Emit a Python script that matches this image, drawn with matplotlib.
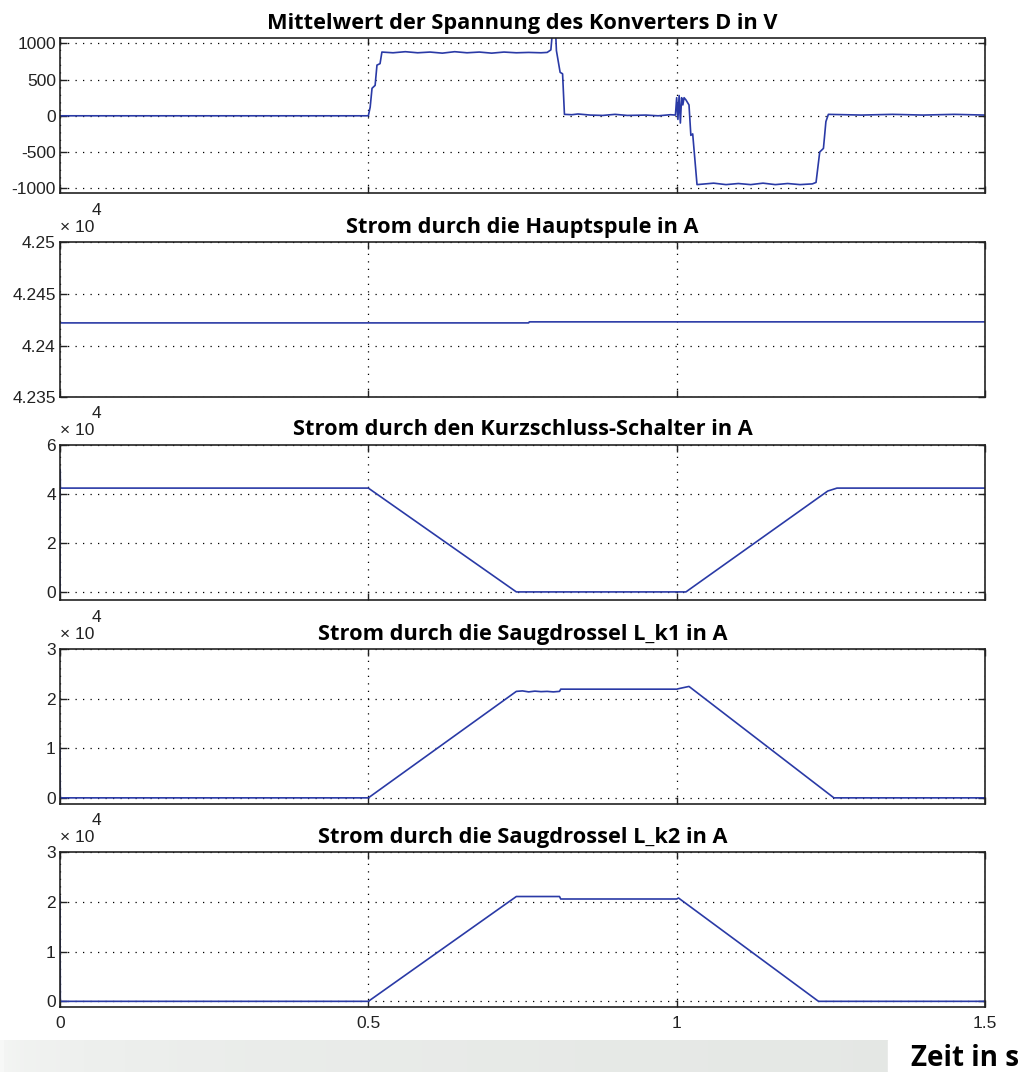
#!/usr/bin/env python3
"""Five stacked time traces: converter voltage and coil / switch / choke currents."""

import numpy as np
import matplotlib

matplotlib.use("Agg")
import matplotlib.pyplot as plt

# --- data (time in s) ---
t_u = [0, 0.5, 0.503, 0.506, 0.511, 0.514, 0.519, 0.522, 0.54, 0.56, 0.58, 0.60,
       0.62, 0.64, 0.66, 0.68, 0.70, 0.72, 0.74, 0.76, 0.78, 0.79, 0.796, 0.800,
       0.803, 0.805, 0.808, 0.811, 0.815, 0.818, 0.83, 0.84, 0.86, 0.88, 0.90,
       0.92, 0.95, 0.97, 0.99, 0.998, 1.000, 1.002, 1.004, 1.006, 1.008, 1.010,
       1.012, 1.015, 1.020, 1.023, 1.026, 1.028, 1.033, 1.06, 1.08, 1.10, 1.12,
       1.14, 1.16, 1.18, 1.20, 1.22, 1.226, 1.232, 1.238, 1.242, 1.246, 1.30,
       1.35, 1.40, 1.45, 1.5]
u_conv = [0, 0, 120, 380, 420, 700, 720, 880, 870, 885, 870, 880,
          865, 885, 870, 880, 865, 880, 870, 875, 870, 875, 910, 1300,
          1300, 900, 750, 600, 580, 20, 15, 25, 10, 5, 20,
          5, 10, 0, 15, 10, 250, -50, 280, -100, 250, 150,
          250, 220, 150, -270, -250, -450, -950, -930, -950, -935, -950,
          -930, -950, -935, -950, -940, -920, -500, -450, -80, 20, 10,
          20, 10, 20, 10]

t_main = [0, 0.76, 0.761, 1.5]
i_main = [42422, 42422, 42423, 42423]

t_short = [0, 0.0003, 0.0006, 0.5, 0.74, 1.015, 1.245, 1.26, 1.5]
i_short = [0, 50000, 42400, 42400, 0, 0, 41200, 42400, 42400]

t_k1 = [0, 0.0005, 0.5, 0.74, 0.75, 0.76, 0.77, 0.78, 0.79, 0.80, 0.81, 0.812,
        1.0, 1.005, 1.02, 1.255, 1.5]
i_k1 = [10000, 0, 0, 21500, 21600, 21400, 21550, 21450, 21500, 21400, 21500, 21950,
        21950, 22100, 22500, 0, 0]

t_k2 = [0, 0.0005, 0.5, 0.74, 0.81, 0.812, 1.0, 1.003, 1.23, 1.5]
i_k2 = [21000, 0, 0, 21100, 21100, 20600, 20600, 20800, 0, 0]

titles = [
    "Mittelwert der Spannung des Konverters D in V",
    "Strom durch die Hauptspule in A",
    "Strom durch den Kurzschluss-Schalter in A",
    "Strom durch die Saugdrossel L_k1 in A",
    "Strom durch die Saugdrossel L_k2 in A",
]
x_ticks = [0, 0.5, 1, 1.5]
x_tick_labels = ["0", "0.5", "1", "1.5"]
y_ticks = [
    [-1000, -500, 0, 500, 1000],
    [4.235, 4.24, 4.245, 4.25],
    [0, 2, 4, 6],
    [0, 1, 2, 3],
    [0, 1, 2, 3],
]
y_tick_labels = [
    ["-1000", "-500", "0", "500", "1000"],
    ["4.235", "4.24", "4.245", "4.25"],
    ["0", "2", "4", "6"],
    ["0", "1", "2", "3"],
    ["0", "1", "2", "3"],
]
y_limits = [(-1070, 1070), (4.235, 4.25), (-0.33, 6), (-0.13, 3), (-0.12, 3)]
scales = [1, 1e4, 1e4, 1e4, 1e4]
x_label = "Zeit in s"

LINE = "#2a3aa6"
TXT = "#222222"
W, H = 1030, 1072

plt.rcParams["axes.unicode_minus"] = False
plt.rcParams["font.family"] = ["Liberation Sans", "DejaVu Sans"]

fig = plt.figure(figsize=(W / 100, H / 100), dpi=100, facecolor="white")

# bottom grey band (slide background)
band = fig.add_axes([0, 0, 1, 32 / H])
grad = np.linspace(0, 1, 256) ** 0.3
band.imshow(grad[None, :], aspect="auto", cmap=matplotlib.colors.LinearSegmentedColormap.from_list(
    "band", ["#f7f8f7", "#e4e7e4"]), extent=[0, 1, 0, 1])
band.set_axis_off()
fig.patches.append(plt.Rectangle((888 / W, 0), 1 - 888 / W, 32 / H,
                                 transform=fig.transFigure, color="white", zorder=5))
fig.text(965 / W, 6 / H, x_label, ha="center", va="baseline", fontsize=20,
         fontweight="bold", family="Open Sans", zorder=6)

tops = [38.3, 242.3, 445, 649.3, 852.3]
ax_h = 155
series = [(t_u, u_conv), (t_main, i_main), (t_short, i_short), (t_k1, i_k1), (t_k2, i_k2)]

for k, (t, y) in enumerate(series):
    ax = fig.add_axes([60 / W, 1 - (tops[k] + ax_h) / H, 925 / W, ax_h / H])
    ax.plot(t, np.asarray(y, dtype=float) / scales[k], color=LINE, lw=1.2)
    ax.set_xlim(0, 1.5)
    ax.set_ylim(*y_limits[k])
    ax.set_xticks(x_ticks)
    ax.set_yticks(y_ticks[k])
    ax.set_yticklabels(y_tick_labels[k])
    if k == len(series) - 1:
        ax.set_xticklabels(x_tick_labels)
    else:
        ax.set_xticklabels([])
    ax.tick_params(direction="in", length=5, width=1, top=True, right=True,
                   labelsize=12.5, colors=TXT, pad=3)
    ax.tick_params(axis="x", pad=6)
    ax.grid(True, color="black", linestyle=(0, (1, 5)), lw=0.9)
    for sp in ax.spines.values():
        sp.set_linewidth(1.2)
        sp.set_color(TXT)
    ax.set_title(titles[k], fontsize=15.7, fontweight="bold", family="Open Sans", pad=7)
    if scales[k] != 1:
        ax.text(0.0, 1.065, "\u00d7 10", transform=ax.transAxes, fontsize=12.5,
                ha="left", va="baseline", color=TXT)
        ax.text(0.034, 1.175, "4", transform=ax.transAxes, fontsize=12.5,
                ha="left", va="baseline", color=TXT)

fig.savefig("out.png", dpi=100, facecolor="white")
